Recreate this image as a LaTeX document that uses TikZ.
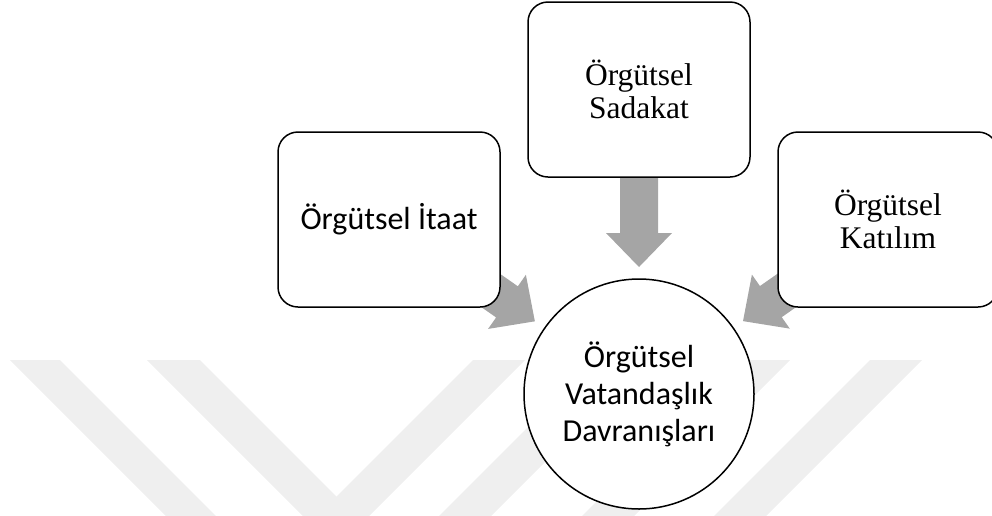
\documentclass[tikz,border=0pt]{standalone}
\usepackage{fontspec}
\newfontfamily\calib{Carlito}
\newfontfamily\timesr{Liberation Serif}
\usetikzlibrary{calc,backgrounds}
\definecolor{arrowgray}{RGB}{165,165,165}
\definecolor{wmgray}{RGB}{239,239,239}
\tikzset{
  roundbox/.style={draw=black, line width=1.5pt, rounded corners=20pt, fill=white,
    minimum width=222pt, minimum height=175pt, align=center, inner sep=0pt},
  centrecircle/.style={circle, draw=black, line width=1.5pt, fill=white,
    minimum size=230pt, inner sep=0pt, align=center},
  sanstext/.style={font=\calib\fontsize{32}{37}\selectfont},
  seriftext/.style={font=\timesr\fontsize{31.5}{33}\selectfont},
  wmband/.style={fill=wmgray},
}
\newcommand{\blockarrow}[2]{%
  \coordinate (T) at ($(#2.center)!127pt!(#1.center)$);
  \coordinate (H) at ($(#2.center)!161pt!(#1.center)$);
  \fill[arrowgray] ($(#1.center)!19pt!90:(T)$) -- ($(H)!19pt!90:(T)$)
    -- ($(H)!33pt!90:(T)$) -- (T) -- ($(H)!33pt!-90:(T)$)
    -- ($(H)!19pt!-90:(T)$) -- ($(#1.center)!19pt!-90:(T)$) -- cycle;}
\begin{document}
\begin{tikzpicture}[x=1pt,y=-1pt]
\useasboundingbox (0,0) rectangle (992,515);
\begin{scope}
  \clip (0,0) rectangle (992,515);
  % watermark bands
  \fill[wmband] (10,360) -- (60,360) -- (260,560) -- (210,560) -- cycle;
  \fill[wmband] (147,360) -- (200,360) -- (400,560) -- (347,560) -- cycle;
  \fill[wmband] (473,360) -- (525,360) -- (325,560) -- (273,560) -- cycle;
  \fill[wmband] (595,360) -- (647,360) -- (447,560) -- (395,560) -- cycle;
  \fill[wmband] (738,360) -- (790,360) -- (590,560) -- (538,560) -- cycle;
  \fill[wmband] (870,360) -- (922,360) -- (722,560) -- (670,560) -- cycle;
  % nodes
  \node[roundbox, sanstext] (itaat) at (389,219.5) {Örgütsel İtaat};
  \node[roundbox, seriftext] (sadakat) at (639,89.5) {Örgütsel\\Sadakat};
  \node[roundbox, seriftext, minimum width=220pt] (katilim) at (888,219.5) {Örgütsel\\Katılım};
  \node[centrecircle, sanstext] (ovd) at (639,394) {Örgütsel\\Vatandaşlık\\Davranışları};
\end{scope}
\begin{pgfonlayer}{background}
  \blockarrow{sadakat}{ovd}
  \blockarrow{itaat}{ovd}
  \blockarrow{katilim}{ovd}
\end{pgfonlayer}
\end{tikzpicture}
\end{document}
